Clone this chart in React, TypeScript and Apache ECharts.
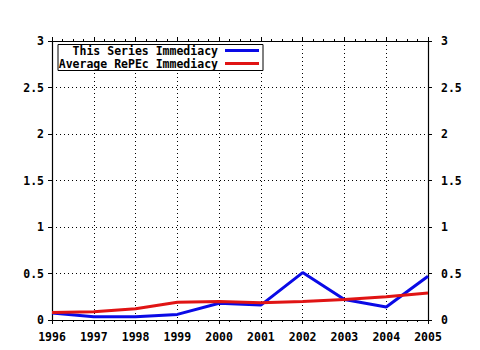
import React, { useEffect, useRef } from "react";
import * as echarts from "echarts";

const years = [1996, 1997, 1998, 1999, 2000, 2001, 2002, 2003, 2004, 2005];
const seriesImmediacy = [0.075, 0.035, 0.035, 0.06, 0.18, 0.16, 0.51, 0.22, 0.14, 0.47];
const repecImmediacy = [0.08, 0.09, 0.12, 0.19, 0.2, 0.185, 0.2, 0.22, 0.25, 0.29];
const seriesNames = ["This Series Immediacy", "Average RePEc Immediacy"];
const seriesColors = ["#0a0ae6", "#e01414"];

const FONT = "DejaVu Sans Mono";

export default function App() {
  const ref = useRef<HTMLDivElement>(null);
  useEffect(() => {
    if (!ref.current) return;
    const chart = echarts.init(ref.current, null, { renderer: "svg" });
    const gridLine = { show: true, lineStyle: { color: "#000", width: 1, type: [1, 3] as any } };
    const labelStyle = { color: "#000", fontFamily: FONT, fontWeight: "bold" as const, fontSize: 11.5 };
    const axisLine = { show: true, onZero: false, lineStyle: { color: "#000", width: 1.2 } };
    const xCommon = {
      type: "value" as const,
      min: years[0],
      max: years[years.length - 1],
      interval: 1,
      axisLine,
      axisTick: { show: true, inside: false, length: 4, lineStyle: { color: "#000" } },
      minorTick: { show: true, splitNumber: 4, length: 2, lineStyle: { color: "#000" } },
    };
    const yCommon = {
      type: "value" as const,
      min: 0,
      max: 3,
      interval: 0.5,
      axisLine,
      axisTick: { show: true, inside: false, length: 4, lineStyle: { color: "#000" } },
    };
    const legendTextRight = 218;
    const legendY = [50.5, 63.5];
    chart.setOption({
      animation: false,
      backgroundColor: "#fff",
      grid: { left: 52, right: 52, top: 41, bottom: 30, containLabel: false },
      xAxis: [
        {
          ...xCommon,
          position: "bottom",
          axisLabel: { ...labelStyle, margin: 11, formatter: (v: number) => String(v) },
          splitLine: gridLine,
        },
        {
          ...xCommon,
          position: "top",
          axisLabel: { show: false },
          splitLine: { show: false },
        },
      ],
      yAxis: [
        {
          ...yCommon,
          position: "left",
          axisLabel: { ...labelStyle, margin: 8, formatter: (v: number) => String(v) },
          splitLine: gridLine,
        },
        {
          ...yCommon,
          position: "right",
          axisLabel: { ...labelStyle, margin: 13, formatter: (v: number) => String(v) },
          splitLine: { show: false },
        },
      ],
      series: [
        {
          name: seriesNames[0],
          type: "line",
          data: years.map((y, i) => [y, seriesImmediacy[i]]),
          showSymbol: false,
          lineStyle: { color: seriesColors[0], width: 3 },
          itemStyle: { color: seriesColors[0] },
          z: 3,
        },
        {
          name: seriesNames[1],
          type: "line",
          data: years.map((y, i) => [y, repecImmediacy[i]]),
          showSymbol: false,
          lineStyle: { color: seriesColors[1], width: 3 },
          itemStyle: { color: seriesColors[1] },
          z: 4,
        },
      ],
      graphic: [
        {
          type: "rect",
          shape: { x: 58, y: 44.5, width: 205, height: 26 },
          style: { fill: "#fff", stroke: "#000", lineWidth: 1 },
          z: 10,
        },
        ...seriesNames.map((name, i) => ({
          type: "text",
          x: legendTextRight,
          y: legendY[i],
          style: {
            text: name,
            fill: "#000",
            font: `bold 11.5px "${FONT}"`,
            lineHeight: 12,
            align: "right",
            verticalAlign: "middle",
          },
          z: 11,
        })),
        ...seriesNames.map((_, i) => ({
          type: "line",
          shape: { x1: 225, y1: legendY[i], x2: 259, y2: legendY[i] },
          style: { stroke: seriesColors[i], lineWidth: 3 },
          z: 11,
        })),
      ],
    });
    return () => chart.dispose();
  }, []);
  return <div ref={ref} style={{ width: 480, height: 350, margin: -8 }} />;
}
